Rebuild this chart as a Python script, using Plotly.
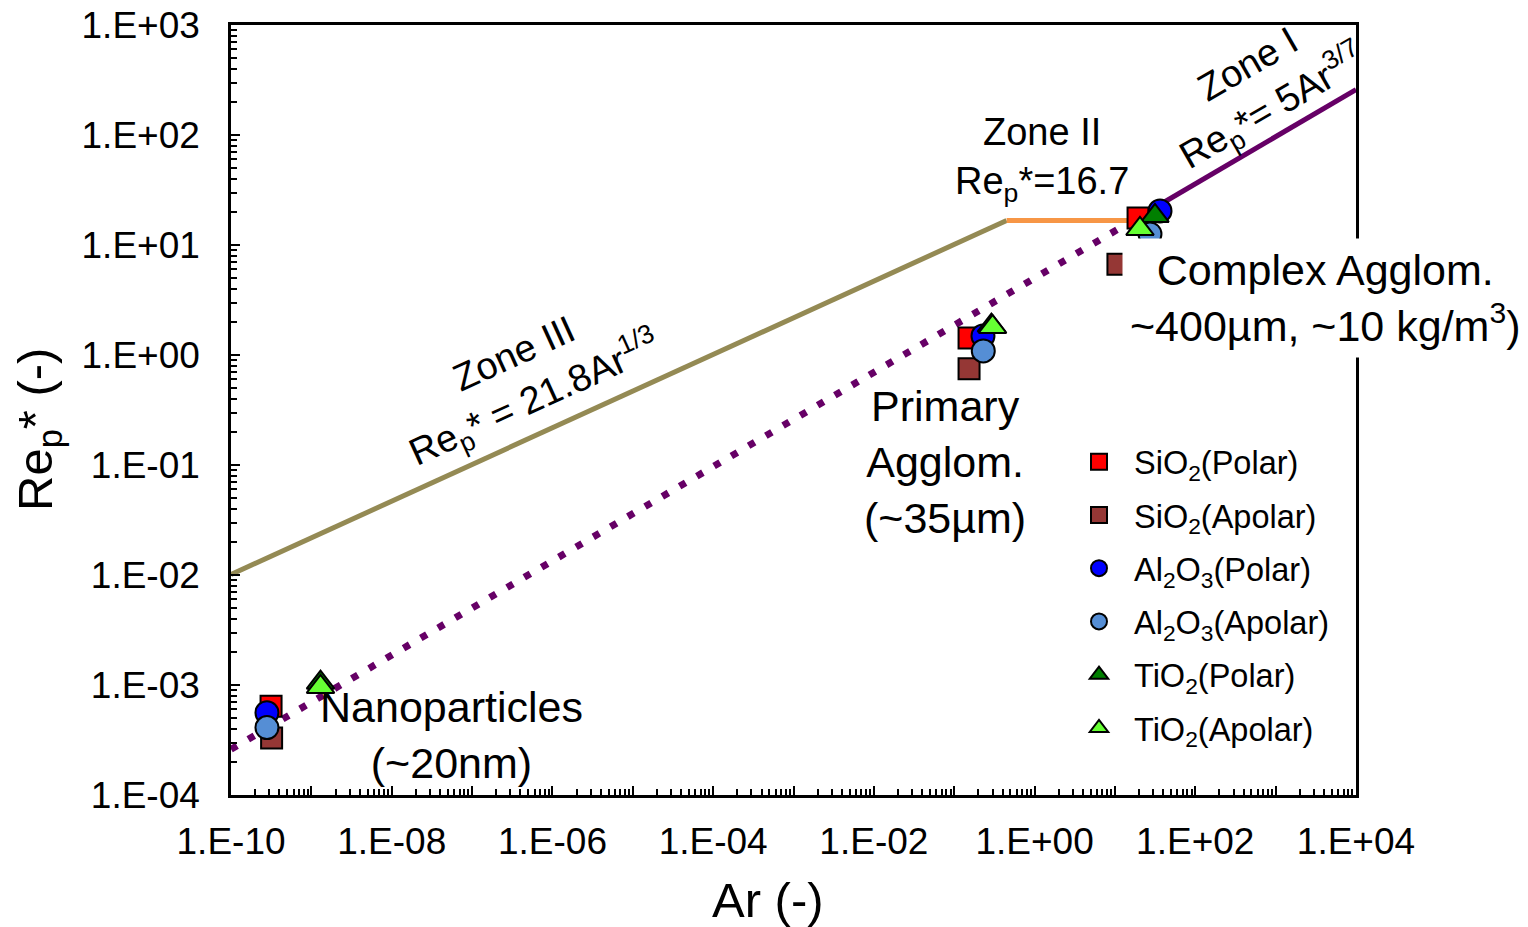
import plotly.graph_objects as go

FONT = "Arial, 'Liberation Sans', sans-serif"

# ---------------- data ----------------
ar_sio2_polar = [3.15e-10, 0.153, 19.4]
rep_sio2_polar = [6.4e-4, 1.43, 17.6]
ar_sio2_apolar = [3.2e-10, 0.153, 10.9]
rep_sio2_apolar = [3.3e-4, 0.75, 6.7]
ar_al2o3_polar = [2.8e-10, 0.228, 36.4]
rep_al2o3_polar = [5.6e-4, 1.49, 20.4]
ar_al2o3_apolar = [2.8e-10, 0.23, 27.3]
rep_al2o3_apolar = [4.1e-4, 1.09, 12.6]
ar_tio2_polar = [1.3e-9, 0.29, 31.5]
rep_tio2_polar = [1.05e-3, 1.85, 18.4]
ar_tio2_apolar = [1.3e-9, 0.30, 20.5]
rep_tio2_apolar = [9.6e-4, 1.8, 14.0]

# correlation lines (end points)
zone3_ar = [1e-10, 0.449]
zone3_rep = [0.0101, 16.7]
zone2_ar = [0.449, 16.7]
zone2_rep = [16.7, 16.7]
zone1_ar = [16.7, 1e4]
zone1_rep = [16.7, 259]
ext_ar = [1e-10, 16.7]
ext_rep = [2.6e-4, 16.7]

x_tickvals = [10.0 ** e for e in range(-10, 5)]
x_ticktext = ["1.E-10", "", "1.E-08", "", "1.E-06", "", "1.E-04", "", "1.E-02", "",
              "1.E+00", "", "1.E+02", "", "1.E+04"]
y_tickvals = [10.0 ** e for e in range(-4, 4)]
y_ticktext = ["1.E-04", "1.E-03", "1.E-02", "1.E-01", "1.E+00", "1.E+01", "1.E+02", "1.E+03"]
x_minor = [m * 10.0 ** e for e in range(-10, 4) for m in range(2, 10)]
y_minor = [m * 10.0 ** e for e in range(-4, 3) for m in range(2, 10)]

fig = go.Figure()

fig.add_trace(go.Scatter(x=ext_ar, y=ext_rep, mode="lines", showlegend=False,
                         line=dict(color="#660066", width=7, dash="7px,13px"), hoverinfo="skip"))
fig.add_trace(go.Scatter(x=zone3_ar, y=zone3_rep, mode="lines", showlegend=False,
                         line=dict(color="#948A54", width=5), hoverinfo="skip"))
fig.add_trace(go.Scatter(x=zone2_ar, y=zone2_rep, mode="lines", showlegend=False,
                         line=dict(color="#F79646", width=5), hoverinfo="skip"))
fig.add_trace(go.Scatter(x=zone1_ar, y=zone1_rep, mode="lines", showlegend=False,
                         line=dict(color="#660066", width=5), hoverinfo="skip"))

series = [
    ("SiO<sub>2</sub>(Polar)", ar_sio2_polar, rep_sio2_polar, "square", "#FF0000", 21),
    ("SiO<sub>2</sub>(Apolar)", ar_sio2_apolar, rep_sio2_apolar, "square", "#953735", 21),
    ("Al<sub>2</sub>O<sub>3</sub>(Polar)", ar_al2o3_polar, rep_al2o3_polar, "circle", "#0000FF", 23),
    ("Al<sub>2</sub>O<sub>3</sub>(Apolar)", ar_al2o3_apolar, rep_al2o3_apolar, "circle", "#558ED5", 23),
    ("TiO<sub>2</sub>(Polar)", ar_tio2_polar, rep_tio2_polar, "triangle-up", "#007F00", 24),
    ("TiO<sub>2</sub>(Apolar)", ar_tio2_apolar, rep_tio2_apolar, "triangle-up", "#66FF33", 24),
]
for i, (name, xs, ys, sym, col, sz) in enumerate(series):
    fig.add_trace(go.Scatter(
        x=xs, y=ys, mode="markers", name=name, legendgroup=f"g{i}",
        marker=dict(symbol=sym, color=col, size=sz, line=dict(color="black", width=2)),
    ))

ann_font = dict(family=FONT, size=43, color="black")
zone_font = dict(family=FONT, size=38, color="black")
annotations = [
    dict(x=-6.34, y=-0.21, text="Zone III<br>Re<sub>p</sub>* = 21.8Ar<sup>1/3</sup>",
         textangle=-24.5, font=zone_font),
    dict(x=0.092, y=1.773, text="Zone II<br>Re<sub>p</sub>*=16.7", font=zone_font),
    dict(x=2.83, y=2.43, text="Zone I<br>Re<sub>p</sub>*= 5Ar<sup>3/7</sup>",
         textangle=-30, font=zone_font),
    dict(x=3.62, y=0.518, text="Complex Agglom.<br>~400µm, ~10 kg/m<sup>3</sup>)",
         font=ann_font, bgcolor="white", borderpad=7),
    dict(x=-1.115, y=-0.973, text="Primary<br>Agglom.<br>(~35µm)", font=ann_font),
    dict(x=-7.25, y=-3.455, text="Nanoparticles<br>(~20nm)", font=ann_font),
]
for a in annotations:
    a.update(xref="x", yref="y", showarrow=False, xanchor="center", yanchor="middle")

annotations.append(dict(x=(768 - 231) / 1125, y=-(900 - 795) / 770, xref="paper", yref="paper",
                        xanchor="center", yanchor="middle",
                        text="Ar (-)", showarrow=False, font=dict(family=FONT, size=49)))
annotations.append(dict(x=-(231 - 38) / 1125, y=(795 - 430) / 770, xref="paper", yref="paper",
                        xanchor="center", yanchor="middle",
                        text="Re<sub>p</sub>* (-)", textangle=-90, showarrow=False,
                        font=dict(family=FONT, size=49)))

# the page body adds an 8 px offset; margins compensate so the plot area
# lands at x 231..1356, y 25..795 of the 1528x927 window
fig.update_layout(
    width=1520, height=919,
    margin=dict(l=223, r=172, t=17, b=132, autoexpand=False),
    paper_bgcolor="white", plot_bgcolor="white",
    font=dict(family=FONT, color="black"),
    annotations=annotations,
    showlegend=True,
    legend=dict(x=(1064 - 231) / 1125, y=(795 - 434) / 770, xanchor="left", yanchor="top",
                font=dict(family=FONT, size=32.5), itemwidth=60, tracegroupgap=8,
                bgcolor="rgba(0,0,0,0)"),
)
fig.update_xaxes(type="log", range=[-10.0002, 4.0002], showgrid=False, zeroline=False,
                 automargin=False, ticklabeloverflow="allow",
                 showline=True, linecolor="black", linewidth=2.5, mirror=True,
                 ticks="inside", ticklen=9, tickwidth=2, tickcolor="black",
                 tickmode="array", tickvals=x_tickvals, ticktext=x_ticktext,
                 tickfont=dict(family=FONT, size=37), ticklabelstandoff=12,
                 minor=dict(ticks="inside", ticklen=6, tickwidth=1.5, tickcolor="black",
                            tickmode="array", tickvals=x_minor, showgrid=False))
fig.update_yaxes(type="log", range=[-4.0002, 3.0002], showgrid=False, zeroline=False,
                 automargin=False, ticklabeloverflow="allow",
                 showline=True, linecolor="black", linewidth=2.5, mirror=True,
                 ticks="inside", ticklen=9, tickwidth=2, tickcolor="black",
                 tickmode="array", tickvals=y_tickvals, ticktext=y_ticktext,
                 tickfont=dict(family=FONT, size=37), ticklabelstandoff=21,
                 minor=dict(ticks="inside", ticklen=6, tickwidth=1.5, tickcolor="black",
                            tickmode="array", tickvals=y_minor, showgrid=False))

fig.write_html("out.html")
